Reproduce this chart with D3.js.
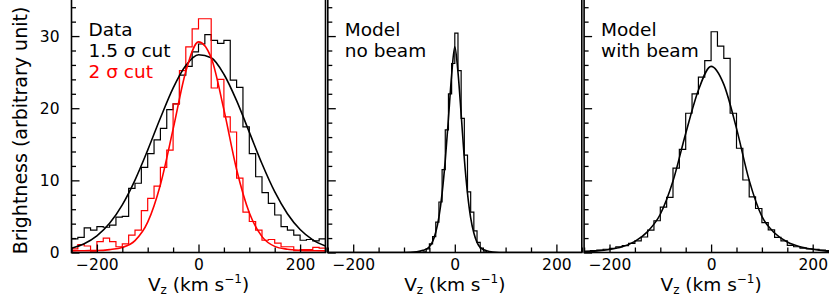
<!DOCTYPE html>
<html lang="en">
<head>
<meta charset="UTF-8">
<title>Brightness vs Vz</title>
<script src="https://d3js.org/d3.v7.min.js"></script>
<style>
    body { margin: 0; background: #fff; }
    svg { display: block; font-family: "DejaVu Sans", sans-serif; }
</style>
</head>
<body>
<svg id="chart" width="829" height="300"></svg>
<script>
// Histograms. Panels 1 and 3: 40 bins of 12.5 km/s from -250.
const dataCut15 = [1.9, 2.1, 3.4, 3.1, 3.6, 3.5, 3.8, 4.9, 5.0, 8.9,
    9.6, 11.8, 13.7, 15.6, 17.2, 19.8, 20.6, 24.6, 25.8, 27.8,
    28.9, 30.2, 29.4, 29.0, 29.4, 23.9, 22.9, 17.4, 13.7, 10.5,
    8.3, 6.8, 5.2, 3.6, 3.1, 2.4, 1.7, 1.8, 1.6, 1.9];
const dataCut2 = [0.5, 1.1, 0.9, 0.2, 1.5, 2.0, 1.5, 0.8, 1.2, 2.4,
    3.1, 5.8, 7.5, 9.2, 11.8, 14.2, 20.6, 25.2, 28.5, 31.0,
    32.4, 32.4, 22.8, 24.0, 18.8, 16.7, 10.3, 5.6, 4.3, 3.1,
    1.7, 1.8, 1.3, 0.8, 0.8, 0.25, 0.4, 0.4, 0.7, 0.6];
const modelBeam = [0.15, 0.25, 0.35, 0.45, 0.58, 0.8, 0.95, 1.27, 1.6, 2.15,
    3.1, 4.4, 6.3, 7.65, 11.7, 14.3, 19.3, 22.0, 24.3, 26.6,
    30.6, 28.6, 26.9, 19.3, 14.45, 10.05, 7.7, 6.1, 4.15, 3.15,
    2.1, 1.6, 1.0, 0.8, 0.6, 0.5, 0.42, 0.35, 0.25, 0.2];
// Panel 2: 20 bins of 6.25 km/s from -62.5 (zero elsewhere)
const modelNoBeam = [0.1, 0.5, 1.2, 2.2, 4.2, 7.0, 11.5, 17.0, 22.0, 26.2,
    30.4, 25.2, 18.6, 13.5, 8.4, 5.6, 3.0, 1.4, 0.6, 0.2];

// Fitted curves, read every 25 km/s
const fitV = [-250, -225, -200, -175, -150, -125, -100, -75, -50, -25, 0,
    25, 50, 75, 100, 125, 150, 175, 200, 225, 250];
const fitCut15 = [0.6, 1.22, 2.31, 4.05, 6.61, 10.04, 14.19, 18.64, 22.79, 25.92, 27.42,
    26.99, 24.71, 21.05, 16.68, 12.3, 8.43, 5.38, 3.19, 1.76, 0.9];
const fitCut2 = [0.22, 0.25, 0.27, 0.4, 0.7, 1.65, 4.2, 9.4, 17.1, 25.1, 29.2,
    27.0, 19.8, 11.5, 5.5, 2.2, 0.85, 0.45, 0.3, 0.25, 0.22];
const fitBeam = [0.12, 0.22, 0.42, 0.8, 1.55, 2.9, 5.3, 9.9, 16.5, 22.5, 25.8,
    23.3, 17.2, 10.0, 5.0, 2.7, 1.45, 0.8, 0.45, 0.22, 0.12];
const fitV2 = [-250, -100, -75, -62.5, -50, -43.75, -37.5, -31.25, -25, -18.75, -12.5, -6.25, 0,
    6.25, 12.5, 18.75, 25, 31.25, 37.5, 43.75, 50, 62.5, 75, 100, 250];
const fitNoBeam = [0, 0, 0.1, 0.3, 0.8, 1.5, 2.8, 4.9, 8.2, 12.8, 18.6, 24.6, 28.5,
    25.0, 19.2, 13.0, 8.2, 4.8, 2.7, 1.4, 0.7, 0.25, 0.08, 0, 0];

const xMajor = [-200, 0, 200];
const xMinor = [-250, -150, -100, -50, 50, 100, 150, 250];
const yMajor = [0, 10, 20, 30];

const panels = [
    { hists: [{ v: dataCut15, lo: -250, w: 12.5, color: "#000" }, { v: dataCut2, lo: -250, w: 12.5, color: "#ff0000" }],
      fits: [{ x: fitV, v: fitCut15, color: "#000" }, { x: fitV, v: fitCut2, color: "#ff0000" }],
      text: [["Data", "#000"], ["1.5 σ cut", "#000"], ["2 σ cut", "#ff0000"]] },
    { hists: [{ v: modelNoBeam, lo: -62.5, w: 6.25, color: "#000" }],
      fits: [{ x: fitV2, v: fitNoBeam, color: "#000" }],
      text: [["Model", "#000"], ["no beam", "#000"]] },
    { hists: [{ v: modelBeam, lo: -250, w: 12.5, color: "#000" }],
      fits: [{ x: fitV, v: fitBeam, color: "#000" }],
      text: [["Model", "#000"], ["with beam", "#000"]] }
];

const svg = d3.select("#chart");
const panelLeft = [71.5, 327.8, 584.1];
const panelW = 254;
const plotTop = 0, plotBottom = 252.5;
const frameTop = -3;

const y = d3.scaleLinear().domain([0, 35]).range([plotBottom, plotTop]);

panels.forEach((p, i) => {
    const x = d3.scaleLinear().domain([-250, 250]).range([panelLeft[i], panelLeft[i] + panelW]);
    const g = svg.append("g");

    svg.append("clipPath").attr("id", "clip" + i)
        .append("rect")
        .attr("x", panelLeft[i]).attr("y", frameTop)
        .attr("width", panelW).attr("height", plotBottom - frameTop);

    const plot = g.append("g").attr("clip-path", `url(#clip${i})`);

    // histograms as outlined steps
    p.hists.forEach(h => {
        const pts = [[h.lo, 0]];
        h.v.forEach((val, k) => {
            pts.push([h.lo + k * h.w, val]);
            pts.push([h.lo + (k + 1) * h.w, val]);
        });
        pts.push([h.lo + h.v.length * h.w, 0]);
        plot.append("path")
            .attr("d", d3.line().x(d => x(d[0])).y(d => y(d[1]))(pts))
            .attr("fill", "none")
            .attr("stroke", h.color)
            .attr("stroke-width", 1.2);
    });

    // fit curves
    p.fits.forEach(f => {
        const pts = f.x.map((v, k) => [v, f.v[k]]);
        plot.append("path")
            .attr("d", d3.line().curve(d3.curveMonotoneX).x(d => x(d[0])).y(d => y(d[1]))(pts))
            .attr("fill", "none")
            .attr("stroke", f.color)
            .attr("stroke-width", 1.6);
    });

    // x axis ticks (pointing inward)
    const xAx = g.append("g").attr("transform", `translate(0,${plotBottom})`)
        .call(d3.axisBottom(x).tickValues(xMajor).tickSizeInner(-8).tickSizeOuter(0).tickPadding(6));
    const xAxMinor = g.append("g").attr("transform", `translate(0,${plotBottom})`)
        .call(d3.axisBottom(x).tickValues(xMinor).tickSizeInner(-5).tickSizeOuter(0).tickFormat(""));

    // y axis ticks
    const yAx = g.append("g").attr("transform", `translate(${panelLeft[i]},0)`)
        .call(d3.axisLeft(y).tickValues(yMajor).tickSizeInner(-8).tickSizeOuter(0).tickPadding(12)
            .tickFormat(i === 0 ? d3.format("d") : ""));
    const yAxMinor = g.append("g").attr("transform", `translate(${panelLeft[i]},0)`)
        .call(d3.axisLeft(y).tickValues(d3.range(2, 35, 2).filter(v => v % 10 !== 0))
            .tickSizeInner(-4.5).tickSizeOuter(0).tickFormat(""));

    [xAx, xAxMinor, yAx, yAxMinor].forEach(a => {
        a.select(".domain").remove();
        a.selectAll("line").attr("stroke", "#000").attr("stroke-width", 1.3);
        a.selectAll("text").attr("font-size", 15.5).attr("fill", "#000")
            .attr("font-family", "DejaVu Sans, sans-serif");
    });

    // frame
    g.append("rect")
        .attr("x", panelLeft[i]).attr("y", frameTop)
        .attr("width", panelW).attr("height", plotBottom - frameTop)
        .attr("fill", "none").attr("stroke", "#000").attr("stroke-width", 1.6);

    // panel labels
    p.text.forEach((t, k) => {
        g.append("text")
            .attr("x", panelLeft[i] + 17)
            .attr("y", 36 + 21 * k)
            .attr("font-size", 18.5)
            .attr("fill", t[1])
            .text(t[0]);
    });

    // x title: V_z (km s^-1)
    const xt = g.append("text")
        .attr("x", panelLeft[i] + panelW / 2)
        .attr("y", 290.5)
        .attr("text-anchor", "middle")
        .attr("font-size", 18.5)
        .attr("fill", "#000");
    xt.append("tspan").text("V");
    xt.append("tspan").attr("font-size", 12).attr("dy", 3).text("z");
    xt.append("tspan").attr("dy", -3).text(" (km s");
    xt.append("tspan").attr("font-size", 12).attr("dy", -8).text("−1");
    xt.append("tspan").attr("dy", 8).text(")");
});

// y title
svg.append("text")
    .attr("transform", "translate(27,130.5) rotate(-90)")
    .attr("text-anchor", "middle")
    .attr("font-size", 19)
    .attr("fill", "#000")
    .text("Brightness (arbitrary unit)");
</script>
</body>
</html>
